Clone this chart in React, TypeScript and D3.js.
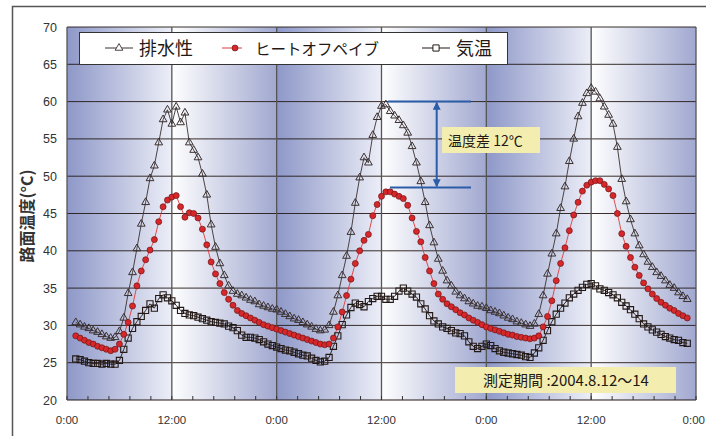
import * as d3 from "d3";

const width = 706;
const height = 436;

// sampled every 30 min, first sample at 1:00 on 8/12
const START_HOUR = 1;
const STEP_HOUR = 0.5;

// 排水性
const drainage = [
  30.4, 30.1, 29.8, 29.6, 29.3, 29.1, 28.8, 28.5, 28.3, 28.4, 29.2, 31.0, 34.3, 37.1, 40.3, 43.6, 46.5, 49.7, 51.4, 54.5,
  57.6, 58.9, 57.0, 59.3, 57.2, 58.5, 54.5, 53.5, 52.5, 50.3, 47.5, 43.5, 40.5, 38.3, 36.7, 35.3, 34.6, 34.2, 34.0, 33.7,
  33.4, 33.2, 32.8, 32.6, 32.4, 32.2, 32.1, 31.8, 31.5, 31.2, 30.9, 30.7, 30.4, 30.1, 29.8, 29.5, 29.3, 29.4, 30.0, 31.8,
  34.0, 36.7, 39.3, 42.5, 46.4, 49.8, 52.5, 51.8, 55.5, 57.9, 59.4, 59.6, 58.7, 58.1, 57.5, 56.8, 55.8, 54.0, 51.8, 49.3,
  46.5, 43.4, 41.1, 38.9, 37.3, 36.0, 35.3, 34.5, 34.0, 33.6, 33.2, 32.9, 32.6, 32.5, 32.3, 32.0, 31.8, 31.6, 31.3, 31.0,
  30.8, 30.5, 30.3, 30.1, 29.9, 30.2, 31.5, 34.0, 36.9, 39.6, 42.3, 45.7, 48.6, 52.0, 55.0, 58.0, 59.8, 61.1, 61.8, 61.3,
  60.4, 59.3, 58.2, 57.0, 53.9, 49.6, 46.6, 44.2, 42.3, 40.7, 39.5, 38.5, 37.8, 37.1, 36.6, 36.0, 35.4, 35.0, 34.4, 33.9,
  33.5,
];

// ヒートオフペイブ
const heatOff = [
  28.6, 28.3, 28.0, 27.7, 27.5, 27.2, 27.0, 26.8, 26.6, 26.8, 27.5, 28.8, 30.4, 32.6, 35.3, 37.3, 38.8, 40.1, 41.5, 43.9,
  45.9, 46.8, 47.2, 47.4, 45.9, 44.5, 45.1, 45.0, 44.4, 42.9, 40.8, 38.5, 36.9, 35.6, 34.4, 33.5, 32.7, 32.0, 31.6, 31.3,
  31.0, 30.7, 30.4, 30.1, 29.9, 29.7, 29.5, 29.3, 29.1, 28.9, 28.7, 28.5, 28.3, 28.1, 27.9, 27.7, 27.5, 27.4, 27.5, 28.3,
  29.8, 31.8, 34.0, 36.2, 38.3, 40.0, 41.4, 42.2, 44.7, 46.2, 47.3, 47.9, 47.9, 47.6, 47.3, 47.0, 46.1, 44.4, 42.6, 41.2,
  39.1, 37.3, 35.6, 34.2, 33.5, 32.9, 32.5, 32.1, 31.7, 31.4, 31.0, 30.7, 30.4, 30.1, 29.8, 29.6, 29.4, 29.2, 29.0, 28.8,
  28.7, 28.5, 28.4, 28.3, 28.2, 28.3, 28.6, 29.8, 31.2, 33.3, 36.0, 38.3, 40.4, 42.7, 44.8, 46.5, 48.0, 48.8, 49.2, 49.4,
  49.4, 48.9, 48.3, 47.4, 45.0, 42.3, 40.6, 39.1, 37.8, 36.7, 35.7, 34.9, 34.2, 33.6, 33.1, 32.7, 32.3, 32.0, 31.6, 31.3,
  31.0,
];

// 気温
const airTemp = [
  25.5, 25.4, 25.2, 25.0, 24.9, 24.9, 24.8, 24.9, 24.8, 24.8, 25.3, 26.8, 28.3, 29.6, 30.5, 31.2, 32.0, 32.9, 32.3, 33.6,
  34.1, 33.7, 33.3, 32.7, 32.0, 31.6, 31.4, 31.3, 31.1, 30.9, 30.7, 30.5, 30.4, 30.3, 30.2, 29.9, 29.7, 29.3, 28.7, 28.4,
  28.4, 28.3, 28.1, 27.8, 27.5, 27.3, 27.1, 26.9, 26.7, 26.6, 26.4, 26.2, 26.0, 25.9, 25.6, 25.3, 25.1, 25.2, 25.7, 27.2,
  28.6, 30.1, 31.4, 32.4, 33.0, 32.8, 32.5, 33.2, 33.6, 33.9, 33.9, 33.5, 33.5, 33.9, 34.6, 35.0, 34.6, 34.2, 33.8, 32.9,
  32.2, 31.3, 30.6, 30.2, 29.8, 29.6, 29.3, 29.0, 28.9, 28.6, 27.8, 27.2, 26.9, 27.2, 27.5, 27.3, 26.9, 26.6, 26.4, 26.3,
  26.2, 26.1, 26.0, 25.8, 25.7, 26.3, 27.0, 28.0, 29.3, 30.5, 31.5, 32.3, 33.0, 33.7, 34.2, 34.7, 35.1, 35.5, 35.6, 35.3,
  34.9, 34.7, 34.4, 34.1, 33.7, 33.1, 32.6, 32.1, 31.5, 30.9, 30.2, 29.8, 29.4, 29.1, 28.8, 28.5, 28.3, 28.1, 28.0, 27.7,
  27.6,
];

const seriesNames = ["排水性", "ヒートオフペイブ", "気温"];
const yTicks = [20, 25, 30, 35, 40, 45, 50, 55, 60, 65, 70];
const xTickHours = [0, 12, 24, 36, 48, 60, 72];
const xTickLabels = ["0:00", "12:00", "0:00", "12:00", "0:00", "12:00", "0:00"];
const yTitle = "路面温度(°C)";

// temperature difference note (day 2 peaks)
const diffTop = 60;
const diffBottom = 48.5;
const diffLabel = "温度差 12℃";
const periodLabel = "測定期間 :2004.8.12～14";

const jp = "'Noto Sans CJK JP', 'Noto Sans', sans-serif";
const num = "'Liberation Sans', Arial, sans-serif";

const App = () => {
  const x = d3.scaleLinear().domain([0, 72]).range([67, 696]);
  const y = d3.scaleLinear().domain([20, 70]).range([400, 27]);

  const hours = drainage.map((_, i) => START_HOUR + i * STEP_HOUR);
  const line = d3
    .line<number>()
    .x((_, i) => x(hours[i]))
    .y((d) => y(d));

  const tri = d3.symbol(d3.symbolTriangle, 26)();
  const sq = d3.symbol(d3.symbolSquare, 38)();

  // half-day background bands
  const halves = d3.range(0, 72, 12);
  const minorTicks = d3.range(0, 72.01, 2.4);

  const [x0, x1] = x.range();
  const [yb, yt] = y.range();

  return (
    <svg width={width} height={height} style={{ position: "absolute", left: 0, top: 0, background: "#fff" }}>
      <defs>
        <linearGradient id="morning" x1="0" x2="1" y1="0" y2="0">
          <stop offset="0" stopColor="#8e98c8" />
          <stop offset="1" stopColor="#eceef7" />
        </linearGradient>
        <linearGradient id="evening" x1="0" x2="1" y1="0" y2="0">
          <stop offset="0" stopColor="#ffffff" />
          <stop offset="1" stopColor="#a1a8d0" />
        </linearGradient>
        <marker id="arrow" viewBox="0 0 10 10" refX="9" refY="5" markerWidth="4" markerHeight="4" orient="auto-start-reverse">
          <path d="M0,0 L10,5 L0,10 z" fill="#2a5ca8" />
        </marker>
      </defs>

      {/* outer frame */}
      <rect x={12.5} y={6.5} width={720} height={460} fill="none" stroke="#555" strokeWidth={1.5} />

      {halves.map((h) => (
        <rect
          key={h}
          x={x(h)}
          y={yt}
          width={x(h + 12) - x(h)}
          height={yb - yt}
          fill={h % 24 === 0 ? "url(#morning)" : "url(#evening)"}
        />
      ))}

      {/* grid */}
      {yTicks.map((t) => (
        <line key={t} x1={x0} x2={x1} y1={y(t)} y2={y(t)} stroke="#231815" strokeWidth={t === 20 ? 1.2 : 0.9} />
      ))}
      {xTickHours.map((h) => (
        <line key={h} x1={x(h)} x2={x(h)} y1={yt} y2={yb} stroke="#555" strokeWidth={1.3} />
      ))}
      {minorTicks.map((h) => (
        <line key={h} x1={x(h)} x2={x(h)} y1={yb - 4} y2={yb} stroke="#333" strokeWidth={1} />
      ))}

      {/* tick labels */}
      {yTicks.map((t) => (
        <text key={t} x={57} y={y(t) + 4.5} textAnchor="end" fontFamily={num} fontSize={12.5} fill="#333">
          {t}
        </text>
      ))}
      {xTickHours.map((h, i) => {
        const last = i === xTickHours.length - 1;
        return (
          <text
            key={h}
            x={last ? 705 : x(h)}
            y={424}
            textAnchor={last ? "end" : "middle"}
            fontFamily={num}
            fontSize={11.5}
            fill="#333"
          >
            {xTickLabels[i]}
          </text>
        );
      })}
      <text
        transform="translate(33,216) rotate(-90)"
        textAnchor="middle"
        fontFamily={jp}
        fontSize={16}
        fontWeight={700}
        fill="#333"
      >
        {yTitle}
      </text>

      {/* series */}
      <path d={line(drainage) ?? ""} fill="none" stroke="#3a3030" strokeWidth={0.9} />
      <path d={line(heatOff) ?? ""} fill="none" stroke="#e03a3a" strokeWidth={0.9} />
      <path d={line(airTemp) ?? ""} fill="none" stroke="#231815" strokeWidth={0.9} />
      {drainage.map((v, i) => (
        <path key={"t" + i} d={tri ?? ""} transform={`translate(${x(hours[i])},${y(v)})`} fill="none" stroke="#3a3030" strokeWidth={1} />
      ))}
      {airTemp.map((v, i) => (
        <path key={"s" + i} d={sq ?? ""} transform={`translate(${x(hours[i])},${y(v)})`} fill="none" stroke="#231815" strokeWidth={1.1} />
      ))}
      {heatOff.map((v, i) => (
        <circle key={"c" + i} cx={x(hours[i])} cy={y(v)} r={3} fill="#d8272a" stroke="#6a1616" strokeWidth={0.7} />
      ))}

      {/* legend */}
      <rect x={79.5} y={32.5} width={428} height={32} fill="#fff" stroke="#333" strokeWidth={1} />
      <line x1={105} x2={133} y1={48} y2={48} stroke="#3a3030" strokeWidth={1} />
      <path d={tri ?? ""} transform="translate(119,48)" fill="#fff" stroke="#3a3030" strokeWidth={0.9} />
      <text x={139} y={55} fontFamily={jp} fontSize={18} fill="#231815">{seriesNames[0]}</text>
      <line x1={222} x2={242} y1={48} y2={48} stroke="#e03a3a" strokeWidth={1} />
      <circle cx={235} cy={48} r={3} fill="#d8272a" stroke="#6a1616" strokeWidth={0.7} />
      <text x={255} y={54.5} fontFamily={jp} fontSize={15.5} fill="#231815">{seriesNames[1]}</text>
      <line x1={422} x2={450} y1={48} y2={48} stroke="#231815" strokeWidth={1} />
      <path d={sq ?? ""} transform="translate(436,48)" fill="#fff" stroke="#231815" strokeWidth={1} />
      <text x={456} y={55} fontFamily={jp} fontSize={18} fill="#231815">{seriesNames[2]}</text>

      {/* temperature difference annotation */}
      <line x1={388} x2={471} y1={y(diffTop)} y2={y(diffTop)} stroke="#2a5ca8" strokeWidth={2} />
      <line x1={390} x2={471} y1={y(diffBottom)} y2={y(diffBottom)} stroke="#2a5ca8" strokeWidth={2} />
      <line
        x1={436.7}
        x2={436.7}
        y1={y(diffTop) + 1}
        y2={y(diffBottom) - 1}
        stroke="#2a5ca8"
        strokeWidth={2}
        markerStart="url(#arrow)"
        markerEnd="url(#arrow)"
      />
      <rect x={442} y={127} width={98} height={26} fill="#f3eeb0" />
      <text x={448} y={146} fontFamily={jp} fontSize={14} fill="#231815">{diffLabel}</text>

      <rect x={455} y={367} width={221} height={26} fill="#f3eeb0" />
      <text x={566} y={386} textAnchor="middle" fontFamily={jp} fontSize={15} fill="#231815">{periodLabel}</text>
    </svg>
  );
};

export default App;
